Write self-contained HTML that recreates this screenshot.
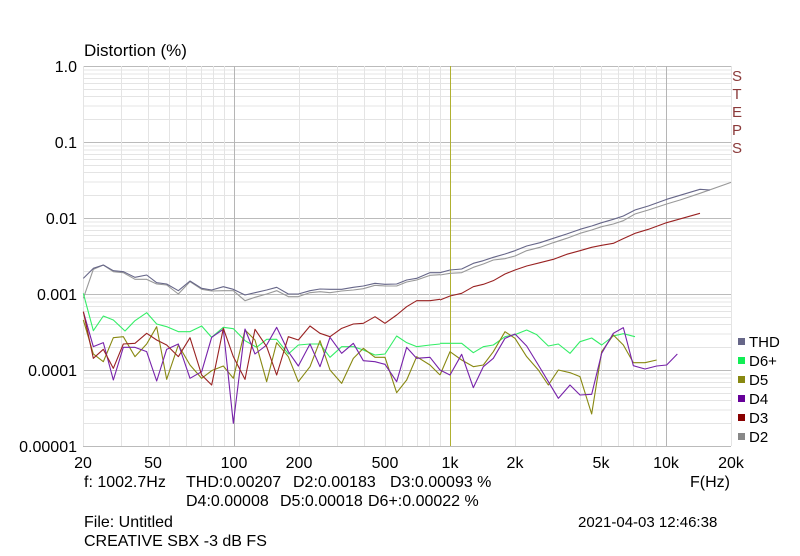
<!DOCTYPE html>
<html><head><meta charset="utf-8"><style>
body{margin:0;background:#fff;width:800px;height:551px;overflow:hidden}
svg{font-family:"Liberation Sans",Arial,sans-serif}
</style></head><body>
<svg width="800" height="551" viewBox="0 0 800 551" xmlns="http://www.w3.org/2000/svg">
<g id="grid" stroke-width="1" shape-rendering="crispEdges"></g>
<script>
(function(){
var g=document.getElementById('grid'),ns='http://www.w3.org/2000/svg';
function L(x1,y1,x2,y2,c){var l=document.createElementNS(ns,'line');l.setAttribute('x1',x1);l.setAttribute('y1',y1);l.setAttribute('x2',x2);l.setAttribute('y2',y2);l.setAttribute('stroke',c);g.appendChild(l);}
var X0=83,XD=216,Y0=66,YD=76;
function fx(f){return X0+Math.log10(f/20)*XD}
for(var d=0;d<5;d++){for(var m=1;m<10;m++){var y=Y0+d*YD+YD*(1-Math.log10(m));if(m==1)y=Y0+d*YD;L(X0,y+0.5,731,y+0.5,m==1?'#bbbbbb':'#e4e4e4');}}
L(X0,446.5,731,446.5,'#bbbbbb');
var fs=[20,30,40,50,60,70,80,90,100,200,300,400,500,600,700,800,900,1000,2000,3000,4000,5000,6000,7000,8000,9000,10000,20000];
fs.forEach(function(f){var x=Math.round(fx(f))+0.5;var c=(f==100||f==10000)?'#b5b5b5':'#e4e4e4';if(f==1000)c='#b0b030';L(x,Y0,x,446,c);});
})();
</script>
<g fill="none" stroke-width="1.1" stroke-linejoin="round">
<g transform="translate(60,250) scale(0.33333)" >
<polyline vector-effect="non-scaling-stroke" stroke="#999999" points="70,145 100,58 130,45 160,65 190,68 225,88 260,88 290,102 320,105 355,132 390,95 425,118 455,123 490,122 520,122 555,152 585,142 620,132 650,122 685,140 715,140 750,128 780,125 810,128 845,123 880,120 910,116 945,106 975,108 1010,108 1040,96 1070,90 1110,76 1140,74"/>
<polyline vector-effect="non-scaling-stroke" stroke="#666688" points="70,85 100,55 130,45 160,62 190,65 225,82 260,75 290,98 320,102 355,122 390,93 425,115 455,120 490,110 520,118 555,135 585,128 620,120 650,112 685,132 715,132 750,122 780,117 810,118 845,118 880,112 910,108 945,100 975,103 1010,102 1040,90 1070,85 1110,68 1140,68"/>
<polyline vector-effect="non-scaling-stroke" stroke="#33ee66" points="70,130 100,242 130,198 160,210 195,243 225,212 260,188 290,222 320,230 355,245 390,245 425,228 455,262 490,232 520,236 555,272 590,292 620,268 650,268 685,312 715,285 750,282 780,282 810,322 845,290 880,290 910,300 945,315 975,312 1010,258 1040,278 1070,290 1110,285 1140,282"/>
<polyline vector-effect="non-scaling-stroke" stroke="#888811" points="70,210 100,312 130,335 160,263 190,260 225,320 260,282 290,230 320,388 355,285 390,345 425,385 455,362 490,348 520,385 555,240 585,270 620,395 650,278 685,320 715,395 750,350 780,272 810,360 845,400 880,325 910,295 945,322 975,322 1010,428 1040,390 1070,320 1110,345 1140,375"/>
<polyline vector-effect="non-scaling-stroke" stroke="#7722aa" points="70,185 100,290 130,278 160,390 190,292 225,292 260,305 290,393 320,298 355,282 390,385 425,365 455,262 490,238 520,520 555,237 585,312 620,285 650,232 685,305 715,348 750,282 780,350 810,262 845,310 880,280 910,332 945,335 975,343 1010,395 1040,292 1070,325 1110,322 1140,360"/>
<polyline vector-effect="non-scaling-stroke" stroke="#992222" points="70,185 100,325 130,298 160,355 190,282 225,280 260,250 290,270 320,285 355,320 390,263 425,375 455,405 490,235 520,320 555,388 585,238 620,290 650,375 685,260 715,270 750,228 780,250 810,260 845,235 880,222 910,220 945,200 975,220 1010,195 1040,170 1070,152 1110,152 1140,148"/>
</g>
<g transform="translate(440,160) scale(0.33333)">
<polyline vector-effect="non-scaling-stroke" stroke="#999999" points="0,345 30,340 65,338 100,322 130,312 160,300 195,296 225,288 260,272 300,262 340,248 380,235 420,220 455,210 485,200 520,192 550,182 585,162 625,150 680,132 720,120 780,100 873,67"/>
<polyline vector-effect="non-scaling-stroke" stroke="#666688" points="0,338 30,330 65,327 100,310 130,302 160,292 195,282 225,272 260,258 300,248 340,235 380,222 420,208 455,198 485,188 520,178 550,168 585,150 625,138 680,118 720,106 780,88 810,90"/>
<polyline vector-effect="non-scaling-stroke" stroke="#33ee66" points="0,550 65,550 100,578 130,560 160,555 195,530 225,524 260,510 290,524 325,558 355,552 390,580 420,545 455,534 485,555 520,528 550,521 585,530"/>
<polyline vector-effect="non-scaling-stroke" stroke="#888811" points="0,645 30,575 65,600 100,620 130,615 160,575 195,515 225,535 260,590 295,630 325,675 355,630 390,638 420,650 455,762 485,575 520,525 550,555 580,608 615,608 650,600"/>
<polyline vector-effect="non-scaling-stroke" stroke="#7722aa" points="0,630 30,645 65,583 100,683 130,620 160,595 195,535 225,522 260,558 295,615 325,665 355,715 390,675 420,705 455,703 485,580 520,520 550,503 580,617 615,627 650,618 680,615 712,582"/>
<polyline vector-effect="non-scaling-stroke" stroke="#992222" points="0,420 30,408 65,400 100,380 130,373 160,362 195,342 225,330 260,318 300,308 340,298 380,283 420,272 455,262 485,256 520,250 550,236 585,220 625,208 680,188 780,160"/>
</g>
</g>
<text x="84" y="56" font-size="17" fill="#000">Distortion (%)</text>
<g font-size="16" fill="#000" text-anchor="end">
<text x="77" y="72">1.0</text><text x="77" y="148">0.1</text><text x="77" y="224">0.01</text>
<text x="77" y="300">0.001</text><text x="77" y="376">0.0001</text><text x="77" y="452">0.00001</text>
</g>
<g font-size="16" fill="#000" text-anchor="middle">
<text x="83" y="468">20</text><text x="153" y="468">50</text><text x="234" y="468">100</text><text x="299" y="468">200</text>
<text x="385" y="468">500</text><text x="450" y="468">1k</text><text x="515" y="468">2k</text><text x="601" y="468">5k</text>
<text x="666" y="468">10k</text><text x="731" y="468">20k</text>
</g>
<g font-size="15" fill="#8b3a3a" text-anchor="middle">
<text x="737" y="81">S</text><text x="737" y="99">T</text><text x="737" y="117">E</text><text x="737" y="135">P</text><text x="737" y="153">S</text>
</g>
<g font-size="15" fill="#000">
<rect x="738" y="338" width="7" height="7" fill="#666688"/><text x="749" y="347">THD</text>
<rect x="738" y="357" width="7" height="7" fill="#11ee55"/><text x="749" y="366">D6+</text>
<rect x="738" y="376" width="7" height="7" fill="#888811"/><text x="749" y="385">D5</text>
<rect x="738" y="395" width="7" height="7" fill="#660099"/><text x="749" y="404">D4</text>
<rect x="738" y="414" width="7" height="7" fill="#880000"/><text x="749" y="423">D3</text>
<rect x="738" y="433" width="7" height="7" fill="#888888"/><text x="749" y="442">D2</text>
</g>
<g font-size="16" fill="#000">
<text x="84" y="487">f: 1002.7Hz</text>
<text x="186" y="487">THD:0.00207</text>
<text x="293" y="487">D2:0.00183</text>
<text x="390" y="487">D3:0.00093 %</text>
<text x="186" y="506">D4:0.00008</text>
<text x="280" y="506">D5:0.00018</text>
<text x="368" y="506">D6+:0.00022 %</text>
<text x="690" y="487">F(Hz)</text>
<text x="84" y="527">File: Untitled</text>
<text x="84" y="546">CREATIVE SBX -3 dB FS</text>
<text x="578" y="527" font-size="15">2021-04-03 12:46:38</text>
</g>
</svg>
</body></html>
